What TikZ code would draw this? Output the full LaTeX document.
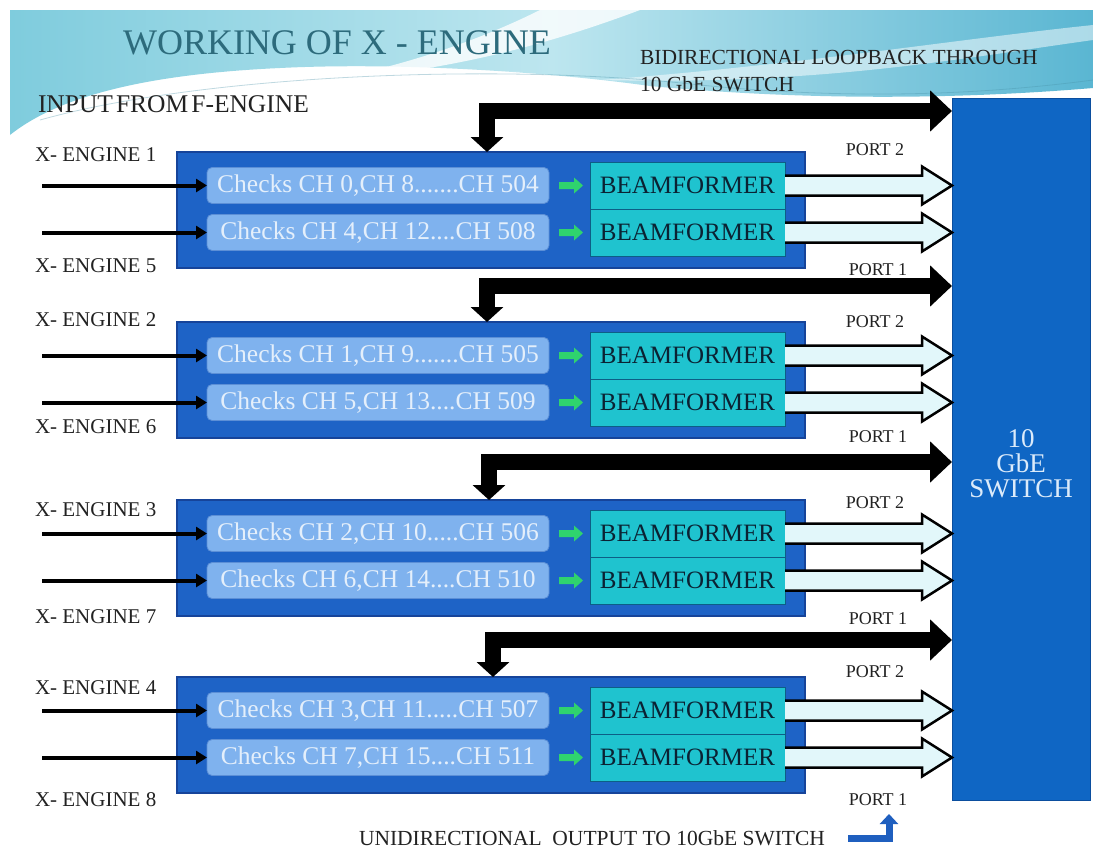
\documentclass[tikz,border=0pt]{standalone}
\usepackage{fontspec}
\setmainfont{Liberation Serif}
\usetikzlibrary{arrows.meta,calc}

\definecolor{blkfill}{HTML}{1E63C6}
\definecolor{blkedge}{HTML}{16449A}
\definecolor{chkfill}{HTML}{7FB2EE}
\definecolor{chkedge}{HTML}{5C8FD6}
\definecolor{chktext}{HTML}{E4EFFB}
\definecolor{bffill}{HTML}{1FC3CF}
\definecolor{bfedge}{HTML}{0D5E86}
\definecolor{bftext}{HTML}{0B2233}
\definecolor{swfill}{HTML}{0F66C4}
\definecolor{swedge}{HTML}{0B4E9E}
\definecolor{swtext}{HTML}{DCEBFA}
\definecolor{outfill}{HTML}{E2F7FA}
\definecolor{garfill}{HTML}{2FD36E}
\definecolor{labtext}{HTML}{222222}
\definecolor{ttltext}{HTML}{2D6B7C}
\definecolor{hdrA}{HTML}{7FCCDD}
\definecolor{hdrB}{HTML}{BDE6EF}
\definecolor{hdrC}{HTML}{5AB6D2}
\definecolor{legblue}{HTML}{1F5FBF}

\begin{document}
\begin{tikzpicture}[x=1pt,y=-1pt,
  every node/.style={inner sep=0pt,outer sep=0pt},
  blk/.style={draw=blkedge,line width=1.5pt,fill=blkfill,minimum width=628pt,minimum height=116pt,anchor=north west},
  chk/.style={draw=chkedge,line width=0.8pt,fill=chkfill,rounded corners=5pt,minimum width=342pt,minimum height=36pt,text=chktext,font=\fontsize{25.5}{25.5}\selectfont,anchor=west},
  bfbox/.style={draw=bfedge,line width=1pt,fill=bffill,minimum width=195pt,minimum height=47pt,text=bftext,font=\fontsize{25}{25}\selectfont,anchor=west},
  lab/.style={font=\fontsize{21}{21}\selectfont,text=labtext,anchor=west},
  port/.style={font=\fontsize{18}{18}\selectfont,text=labtext},
  hdr/.style={font=\fontsize{21.5}{21.5}\selectfont,text=labtext,anchor=west},
  inarr/.style={line width=4pt,-{Triangle[length=11pt,width=13pt]}},
  bus/.style={line width=16pt,line join=miter,{Triangle[length=15pt,width=32pt]}-{Triangle[length=22pt,width=40pt]}},
  outarr/.style={draw=black,line width=2.5pt,fill=outfill,line join=miter},
  garr/.style={draw=none,fill=garfill},
]
\useasboundingbox (0,0) rectangle (1093,852);
\fill[white] (0,0) rectangle (1093,852);

% header wave band
\shade[left color=hdrA,right color=hdrC,middle color=hdrB]
  (10,10) -- (1093,10) -- (1093,88)
  .. controls (950,100) and (800,100) .. (650,86)
  .. controls (550,72) and (400,62) .. (280,68)
  .. controls (150,74) and (60,95) .. (10,135) -- cycle;
\fill[white,opacity=0.75]
  (10,135) .. controls (120,85) and (300,70) .. (520,72)
  .. controls (300,80) and (120,100) .. (10,135) -- cycle;
\fill[white,opacity=0.8]
  (330,80) .. controls (430,60) and (500,30) .. (540,10)
  -- (640,10) .. controls (560,40) and (460,70) .. (330,80) -- cycle;
\fill[white,opacity=0.5]
  (600,80) .. controls (800,65) and (950,40) .. (1093,25)
  -- (1093,40) .. controls (950,60) and (820,85) .. (600,80) -- cycle;
\draw[hdrC!80!black,opacity=0.35,line width=0.8pt]
  (40,120) .. controls (200,75) and (500,62) .. (700,85)
  .. controls (850,100) and (980,95) .. (1093,80);

% titles
\node[font=\fontsize{36}{36}\selectfont,text=ttltext] (title) at (337,43) {WORKING OF X - ENGINE};
\node[hdr] (loop1) at (640,57) {BIDIRECTIONAL LOOPBACK THROUGH};
\node[hdr] (loop2) at (640,84) {10 GbE SWITCH};
\node[font=\fontsize{25.5}{25.5}\selectfont,text=labtext,anchor=west,
      execute at begin node={\spaceskip=3pt plus 1pt}] (input) at (38,104) {INPUT FROM F-ENGINE};

% switch
\node[draw=swedge,line width=1pt,fill=swfill,minimum width=138pt,minimum height=702pt,anchor=north west] (sw) at (952,98) {};
\node[text=swtext,font=\fontsize{27}{25}\selectfont,align=center] (swlab) at ($(sw.center)+(0,15)$) {10\\GbE\\SWITCH};

% the four engine pairs
\foreach \k/\top/\busy/\sx/\la/\lay/\lb/\lby/\pay/\pby/\ca/\cb in {
  1/152/111/487/1/155/5/266/150/270/{Checks CH 0,CH 8.......CH 504}/{Checks CH 4,CH 12....CH 508},
  2/322/286/487/2/320/6/427/322/437/{Checks CH 1,CH 9.......CH 505}/{Checks CH 5,CH 13....CH 509},
  3/500/462/489/3/510/7/617/503/619/{Checks CH 2,CH 10.....CH 506}/{Checks CH 6,CH 14....CH 510},
  4/677/640/493/4/688/8/800/672/800/{Checks CH 3,CH 11.....CH 507}/{Checks CH 7,CH 15....CH 511}}{
  \node[blk] (blk\k) at (177,\top) {};
  \node[chk] (ca\k) at (207,\top+33.5) {\ca};
  \node[chk] (cb\k) at (207,\top+80.5) {\cb};
  \node[bfbox] (ba\k) at (590,\top+33.5) {BEAMFORMER};
  \node[bfbox] (bb\k) at (590,\top+80.5) {BEAMFORMER};
  \node[lab] (la\k) at (35,\lay) {X- ENGINE \la};
  \node[lab] (lb\k) at (35,\lby) {X- ENGINE \lb};
  \node[port] (pa\k) at (875,\pay) {PORT 2};
  \node[port] (pb\k) at (878,\pby) {PORT 1};
  \coordinate (ina\k) at (42,\top+33.5);
  \coordinate (inb\k) at (42,\top+80.5);
  \coordinate (bus\k) at (\sx,\busy);
  % inputs from the F-engine
  \draw[inarr] (ina\k) -- (ca\k.west);
  \draw[inarr] (inb\k) -- (cb\k.west);
  \foreach \r in {a,b}{
    % channel checks feed the beamformers
    \path let \p1=(c\r\k.east), \p2=(b\r\k.west) in
      coordinate (gs) at ($(\p1)+(10,0)$) coordinate (ge) at ($(\p2)+(-7,0)$);
    \fill[garr] ($(gs)+(0,-3.5)$) -- ($(ge)+(-9,-3.5)$) -- ($(ge)+(-9,-8)$) -- (ge)
      -- ($(ge)+(-9,8)$) -- ($(ge)+(-9,3.5)$) -- ($(gs)+(0,3.5)$) -- cycle;
    % unidirectional outputs to the switch
    \coordinate (os) at (b\r\k.east);
    \coordinate (oe) at (sw.west |- os);
    \draw[outarr] ($(os)+(0,-10)$) -- ($(oe)+(-30,-10)$) -- ($(oe)+(-30,-19)$) -- (oe)
      -- ($(oe)+(-30,19)$) -- ($(oe)+(-30,10)$) -- ($(os)+(0,10)$);
  }
  % bidirectional loopback through the switch
  \draw[bus] (bus\k |- blk\k.north) -- (bus\k) -- (sw.west |- bus\k);
}

% legend
\node[font=\fontsize{21.5}{21.5}\selectfont,text=labtext,anchor=east] (leg) at (825,838) {UNIDIRECTIONAL\ \ OUTPUT TO 10GbE SWITCH};
\draw[legblue,line width=7pt,line join=miter,-{Triangle[length=10pt,width=18pt]}]
  (848,838) -- (889,838) -- (889,814);
\end{tikzpicture}
\end{document}
